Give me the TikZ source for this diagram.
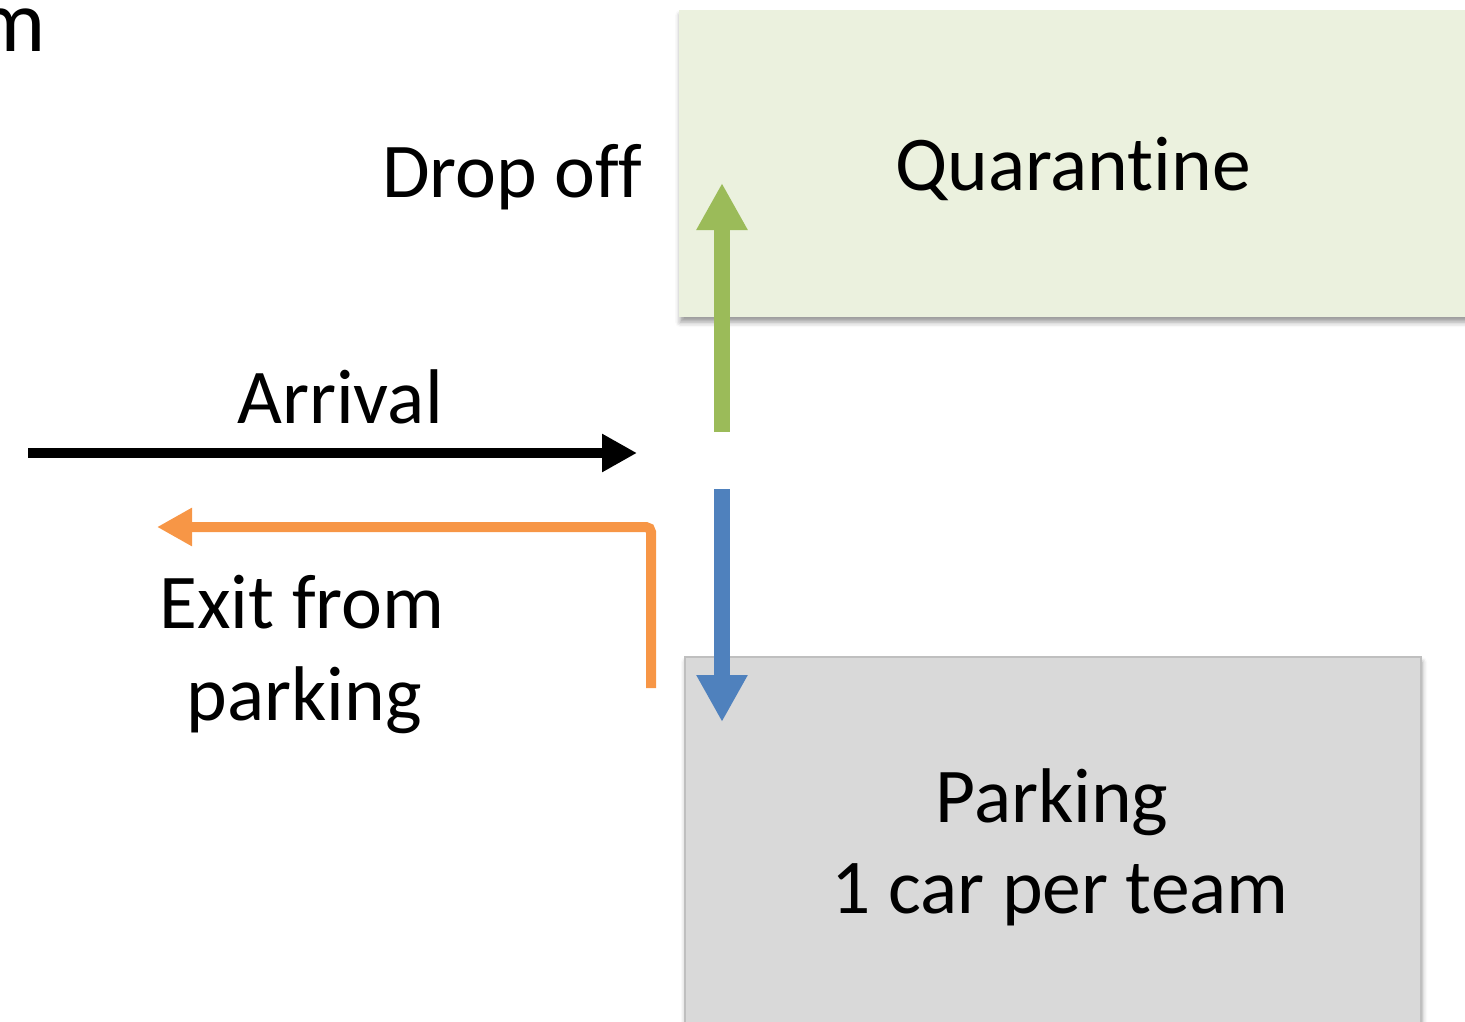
\documentclass[tikz,border=0pt]{standalone}
\usepackage{fontspec}
\setmainfont[Ligatures=NoCommon]{Carlito}
\usetikzlibrary{arrows.meta,shadows.blur}
\definecolor{qgreen}{HTML}{EBF1DE}
\definecolor{pgray}{HTML}{D9D9D9}
\definecolor{pborder}{HTML}{BFBFBF}
\definecolor{agreen}{HTML}{9BBB59}
\definecolor{ablue}{HTML}{4F81BD}
\definecolor{aorange}{HTML}{F79646}
\begin{document}
\begin{tikzpicture}[x=1pt,y=-1pt,
  lbl/.style={font=\fontsize{77.5}{93}\selectfont, inner sep=0pt},
  boxshadow/.style={blur shadow={shadow xshift=1pt, shadow yshift=-5pt, shadow blur radius=5pt, shadow opacity=40}},
  bigarrow/.style={line width=16pt, -{Triangle[length=47pt,width=48pt]}},
  thinarrow/.style={line width=10pt, -{Triangle[length=35pt,width=36pt]}}]
\useasboundingbox (0,0) rectangle (1465,1022);
% boxes
\node[boxshadow, fill=qgreen, minimum width=800pt, minimum height=307pt, inner sep=0pt, anchor=north west] (quar) at (679,10) {};
\node[boxshadow, fill=pgray, draw=pborder, line width=2pt, minimum width=736pt, minimum height=390pt, inner sep=0pt, anchor=north west] (park) at (684,656) {};
% texts
\node[font=\fontsize{88}{100}\selectfont, inner sep=0pt, anchor=base east] (title) at (46,52) {m};
\node[lbl, anchor=base east] (drop) at (643,197) {Drop of\kern0pt f};
\node[lbl, anchor=base] (qtext) at (1073,190) {Quarant\kern0pt ine};
\node[lbl, anchor=base] (arrival) at (340,423) {Arrival};
\node[lbl, anchor=base] (exit1) at (302,628) {Exit from};
\node[lbl, anchor=base] (exit2) at (304,720) {parking};
\node[lbl, anchor=base] (ptext1) at (1052,822) {Parking};
\node[lbl, anchor=base] (ptext2) at (1060,913) {1 car per team};
% arrows
\coordinate (gs) at (722,432); \coordinate (ge) at (722,183);
\coordinate (bs) at (722,489); \coordinate (be) at (722,722);
\coordinate (ks) at (28,453);  \coordinate (ke) at (637,453);
\coordinate (os) at (651,688); \coordinate (oc) at (651,527); \coordinate (oe) at (157,527);
\draw[bigarrow, agreen] (gs) -- (ge);
\draw[bigarrow, ablue] (bs) -- (be);
\draw[thinarrow, black] (ks) -- (ke);
\draw[thinarrow, aorange, rounded corners=5pt] (os) -- (oc) -- (oe);
\end{tikzpicture}
\end{document}
